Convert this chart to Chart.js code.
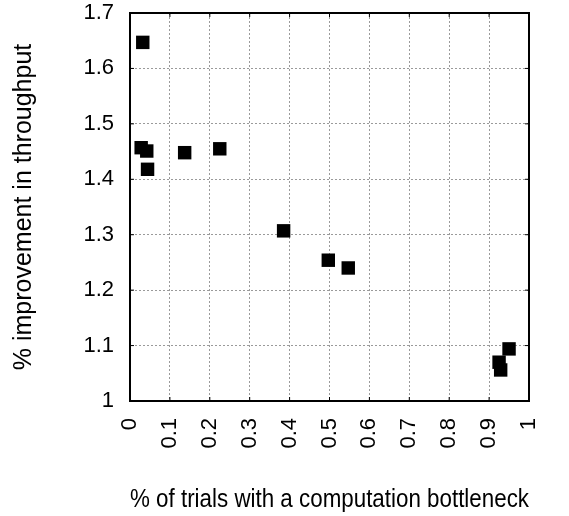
<!DOCTYPE html>
<html lang="en">
<head>
    <meta charset="UTF-8">
    <title>Throughput improvement vs computation bottleneck</title>
    <style>
        body {
            margin: 0;
            background-color: #fff;
        }
        #chartContainer {
            width: 569px;
            height: 516px;
        }
    </style>
    <script src="https://cdn.jsdelivr.net/npm/chart.js"></script>
</head>
<body>
    <div id="chartContainer">
        <canvas id="bottleneckChart"></canvas>
    </div>

    <script>
        // values
        const bottleneckFraction = [0.032, 0.028, 0.042, 0.044, 0.137, 0.225, 0.385, 0.497, 0.547, 0.925, 0.929, 0.95];
        const improvement = [1.647, 1.457, 1.451, 1.418, 1.448, 1.455, 1.307, 1.254, 1.240, 1.070, 1.056, 1.094];
        const xTicks = [0, 0.1, 0.2, 0.3, 0.4, 0.5, 0.6, 0.7, 0.8, 0.9, 1];
        const yTicks = [1, 1.1, 1.2, 1.3, 1.4, 1.5, 1.6, 1.7];

        const fontFamily = '"Liberation Sans", Arial, sans-serif';

        // closes the box on top and right and adds the small inward tick marks
        const frame = {
            id: 'frame',
            afterDraw(chart) {
                const { ctx, chartArea: a, scales } = chart;
                ctx.save();
                ctx.strokeStyle = '#000';
                ctx.lineWidth = 1;
                ctx.beginPath();
                for (const v of yTicks) {
                    const py = scales.y.getPixelForValue(v);
                    ctx.moveTo(a.left, py); ctx.lineTo(a.left + 4, py);
                    ctx.moveTo(a.right, py); ctx.lineTo(a.right - 4, py);
                }
                for (const v of xTicks) {
                    const px = scales.x.getPixelForValue(v);
                    ctx.moveTo(px, a.bottom); ctx.lineTo(px, a.bottom - 4);
                    ctx.moveTo(px, a.top); ctx.lineTo(px, a.top + 4);
                }
                ctx.stroke();
                ctx.lineWidth = 2;
                ctx.strokeRect(a.left, a.top, a.right - a.left, a.bottom - a.top);
                ctx.restore();
            }
        };

        document.addEventListener('DOMContentLoaded', function () {
            const ctx = document.getElementById('bottleneckChart').getContext('2d');
            new Chart(ctx, {
                type: 'scatter',
                data: {
                    datasets: [{
                        data: bottleneckFraction.map((x, i) => ({ x: x, y: improvement[i] })),
                        pointStyle: 'rect',
                        pointRadius: 9.5,
                        pointHoverRadius: 9.5,
                        backgroundColor: '#000',
                        borderColor: '#000',
                        borderWidth: 0
                    }]
                },
                plugins: [frame],
                options: {
                    responsive: true,
                    maintainAspectRatio: false,
                    animation: false,
                    layout: {
                        padding: { left: 5, right: 40, top: 13, bottom: 1 }
                    },
                    scales: {
                        x: {
                            type: 'linear',
                            min: 0,
                            max: 1,
                            afterBuildTicks: function (scale) {
                                scale.ticks = xTicks.map(v => ({ value: v }));
                            },
                            afterFit: function (scale) {
                                scale.height = 114;
                                scale.paddingLeft = 0;
                                scale.paddingRight = 0;
                            },
                            ticks: {
                                minRotation: 90,
                                maxRotation: 90,
                                padding: 17,
                                color: '#000',
                                font: { family: fontFamily, size: 22 },
                                callback: v => String(+v.toFixed(1))
                            },
                            grid: {
                                color: '#9a9a9a',
                                lineWidth: 1,
                                drawTicks: false
                            },
                            border: { color: '#000', width: 2, dash: [2, 2] },
                            title: {
                                display: true,
                                text: '% of trials with a computation bottleneck',
                                color: '#000',
                                padding: { top: 4, bottom: 0 },
                                font: { family: fontFamily, size: 25 }
                            }
                        },
                        y: {
                            type: 'linear',
                            min: 1,
                            max: 1.7,
                            afterBuildTicks: function (scale) {
                                scale.ticks = yTicks.map(v => ({ value: v }));
                            },
                            afterFit: function (scale) {
                                scale.width = 125;
                                scale.paddingTop = 0;
                                scale.paddingBottom = 0;
                            },
                            ticks: {
                                padding: 16,
                                color: '#000',
                                font: { family: fontFamily, size: 22 },
                                callback: v => String(+v.toFixed(1))
                            },
                            grid: {
                                color: '#9a9a9a',
                                lineWidth: 1,
                                drawTicks: false
                            },
                            border: { color: '#000', width: 2, dash: [2, 2] },
                            title: {
                                display: true,
                                text: '% improvement in throughput',
                                color: '#000',
                                font: { family: fontFamily, size: 25 }
                            }
                        }
                    },
                    plugins: {
                        legend: { display: false },
                        tooltip: { enabled: false }
                    }
                }
            });
        });
    </script>
</body>
</html>
